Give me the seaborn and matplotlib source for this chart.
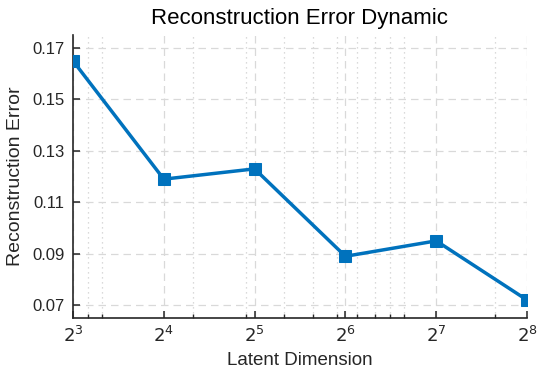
import numpy as np
import pandas as pd
import seaborn as sns
import matplotlib
matplotlib.use("Agg")
import matplotlib.pyplot as plt
from matplotlib.ticker import FixedLocator, FuncFormatter

# dados
latent_dim = [8, 16, 32, 64, 128, 256]
recon_error = [0.165, 0.119, 0.123, 0.089, 0.095, 0.072]
y_ticks = [0.07, 0.09, 0.11, 0.13, 0.15, 0.17]
x_minor = [9, 10, 20, 30, 40, 50, 60, 70, 80, 90, 100, 200]

df = pd.DataFrame({"dim": latent_dim, "err": recon_error})

sns.set_style("white")
plt.rcParams["font.family"] = ["Liberation Sans", "DejaVu Sans"]

fig = plt.figure(figsize=(5.5, 3.82), dpi=100)
ax = fig.add_axes([0.1327, 0.1675, 0.8255, 0.7405])

sns.lineplot(data=df, x="dim", y="err", ax=ax, color="#0072BD", linewidth=2.5,
             marker="s", markersize=8, markeredgecolor="#0072BD", zorder=3)

ax.set_xscale("log", base=2)
ax.set_xlim(8, 256)
ax.set_ylim(0.065, 0.175)
ax.xaxis.set_major_locator(FixedLocator(latent_dim))
ax.xaxis.set_major_formatter(FuncFormatter(lambda v, p: r"$2^{%d}$" % round(np.log2(v))))
ax.xaxis.set_minor_locator(FixedLocator(x_minor))
ax.xaxis.set_minor_formatter(FuncFormatter(lambda v, p: ""))
ax.set_yticks(y_ticks)
ax.set_yticklabels([f"{v:.2f}" for v in y_ticks])

ax.grid(True, which="major", color="#d9d9d9", linestyle=(0, (6, 4)), linewidth=0.9)
ax.grid(True, which="minor", axis="x", color="#cfcfcf", linestyle=(0, (1, 3)), linewidth=0.9)

for s in ["top", "right"]:
    ax.spines[s].set_visible(False)
for s in ["left", "bottom"]:
    ax.spines[s].set_color("#262626")
    ax.spines[s].set_linewidth(1.2)

ax.tick_params(axis="both", which="major", direction="in", length=5, width=1.1,
               labelsize=12, colors="#262626", pad=6, left=True, bottom=True)
ax.tick_params(axis="x", which="minor", direction="in", length=3, width=1.0, bottom=True)
ax.tick_params(axis="x", labelsize=13)

ax.set_xlabel("Latent Dimension", fontsize=13.5, color="#262626")
ax.set_ylabel("Reconstruction Error", fontsize=14, color="#262626", labelpad=6)
ax.set_title("Reconstruction Error Dynamic", fontsize=16, color="black", pad=8)

plt.savefig("out.png", dpi=100)
